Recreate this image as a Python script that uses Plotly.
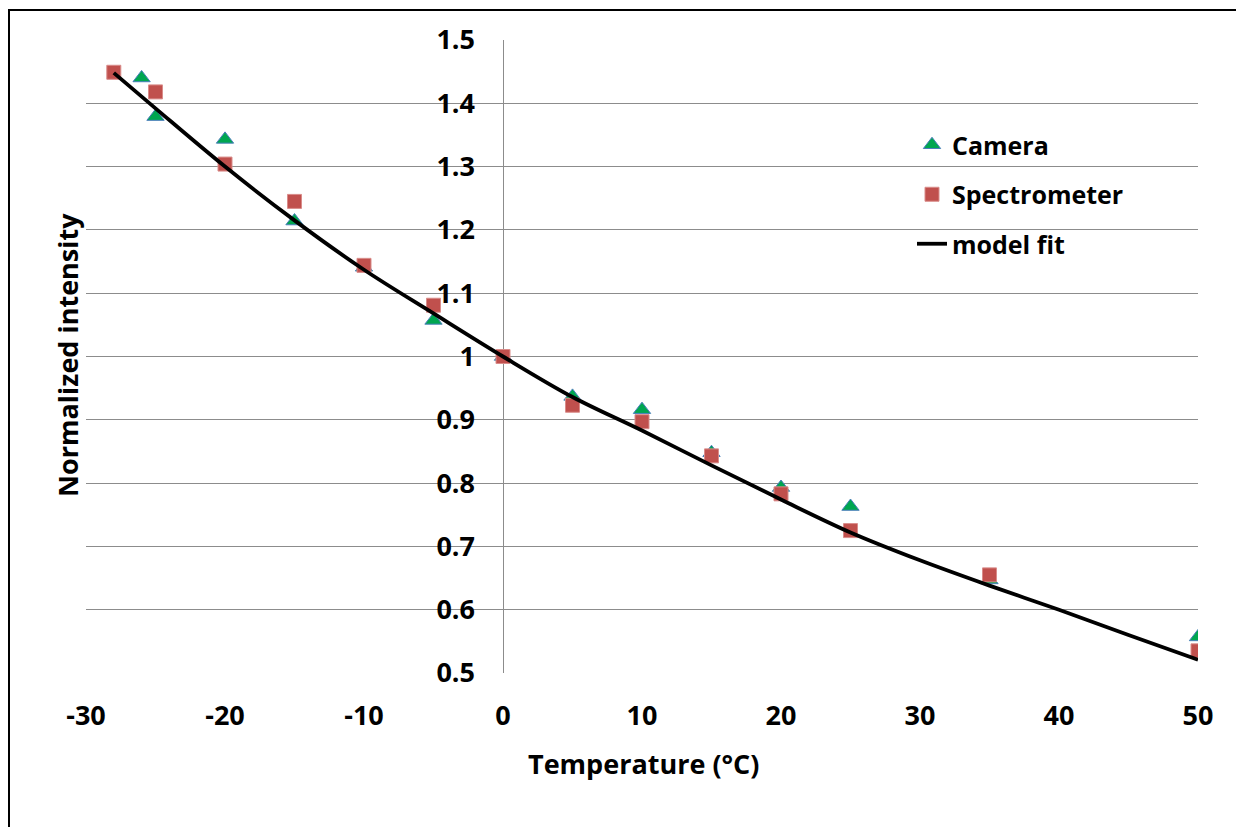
import plotly.graph_objects as go

# ---- data ----
cam_x = [-26, -25, -20, -15, -10, -5, 0, 5, 10, 15, 20, 25, 35, 50]
cam_y = [1.440, 1.379, 1.343, 1.214, 1.141, 1.057, 1.0, 0.937, 0.916, 0.848, 0.793, 0.763, 0.647, 0.557]

spec_x = [-28, -25, -20, -15, -10, -5, 0, 5, 10, 15, 20, 25, 35, 50]
spec_y = [1.449, 1.418, 1.304, 1.245, 1.144, 1.081, 1.0, 0.923, 0.897, 0.843, 0.783, 0.725, 0.655, 0.535]

fit_x = [-28, -25, -20, -15, -10, -5, 0, 5, 10, 15, 20, 25, 30, 35, 40, 45, 50]
fit_y = [1.448, 1.392, 1.300, 1.215, 1.137, 1.068, 1.0, 0.936, 0.883, 0.828, 0.774, 0.722, 0.678, 0.638, 0.600, 0.560, 0.521]

x_ticks = [-30, -20, -10, 0, 10, 20, 30, 40, 50]
x_tick_text = ["-30", "-20", "-10", "0", "10", "20", "30", "40", "50"]
y_ticks = [0.5, 0.6, 0.7, 0.8, 0.9, 1.0, 1.1, 1.2, 1.3, 1.4, 1.5]
y_tick_text = ["0.5", "0.6", "0.7", "0.8", "0.9", "1", "1.1", "1.2", "1.3", "1.4", "1.5"]

FONT = "Open Sans"
W, H = 1236, 827
L, R, T, B = 86, 38, 40, 154
pw, ph = W - L - R, H - T - B


def px(xp):
    return (xp - L) / pw


def py(yp):
    return (H - B - yp) / ph


fig = go.Figure()
fig.add_trace(go.Scatter(
    x=cam_x, y=cam_y, mode="markers", name="Camera", legendgroup="a",
    marker=dict(symbol="triangle-up", size=15, color="#00A650",
                line=dict(color="#4A7EBB", width=1)),
))
fig.add_trace(go.Scatter(
    x=spec_x, y=spec_y, mode="markers", name="Spectrometer", legendgroup="b",
    marker=dict(symbol="square", size=14, color="#C0504D",
                line=dict(color="#D98C8A", width=1)),
))
fig.add_trace(go.Scatter(
    x=fit_x, y=fit_y, mode="lines", name="model fit", legendgroup="c",
    line=dict(color="black", width=3.8, shape="spline"),
))

fig.update_layout(
    width=W, height=H,
    margin=dict(l=L, r=R, t=T, b=B),
    paper_bgcolor="white", plot_bgcolor="white",
    font=dict(family=FONT, size=26, color="black"),
    showlegend=True,
    legend=dict(x=px(912), y=py(122), xanchor="left", yanchor="top",
                font=dict(family=FONT, size=25, color="black", weight="bold"),
                tracegroupgap=14, itemwidth=30, bgcolor="rgba(0,0,0,0)"),
    xaxis=dict(range=[-30, 50], tickvals=x_ticks, ticktext=x_tick_text, showgrid=False,
               zeroline=True, zerolinecolor="#8c8c8c", zerolinewidth=1.3,
               showline=False, ticks="", ticklabelstandoff=24,
               tickfont=dict(family=FONT, size=27, weight="bold")),
    yaxis=dict(range=[0.5, 1.5], tickvals=y_ticks, ticktext=y_tick_text,
               showgrid=True, gridcolor="#8c8c8c", gridwidth=1.3,
               zeroline=False, showline=False, ticks="",
               anchor="free", position=0.375, ticklabelstandoff=28,
               tickfont=dict(family=FONT, size=27, weight="bold")),
    annotations=[
        dict(text="Temperature (°C)", xref="paper", yref="paper",
             x=px(643), y=py(763), showarrow=False, xanchor="center", yanchor="middle",
             font=dict(family=FONT, size=27, weight="bold")),
        dict(text="Normalized intensity", xref="paper", yref="paper",
             x=px(67), y=py(355), showarrow=False, xanchor="center", yanchor="middle",
             textangle=-90, font=dict(family=FONT, size=27, weight="bold")),
    ],
    shapes=[
        dict(type="line", xref="paper", yref="paper", x0=px(9), x1=px(9),
             y0=py(10), y1=py(H), line=dict(color="black", width=2)),
        dict(type="line", xref="paper", yref="paper", x0=px(8), x1=px(W),
             y0=py(10), y1=py(10), line=dict(color="black", width=2)),
    ],
)

fig.write_html(
    "out.html",
    config={"displayModeBar": False},
    post_script=(
        "var st=document.createElement('style');"
        "st.textContent='html,body{margin:0;padding:0;overflow:hidden;}"
        "::-webkit-scrollbar{display:none;width:0;height:0;}';"
        "document.head.appendChild(st);"
    ),
)
